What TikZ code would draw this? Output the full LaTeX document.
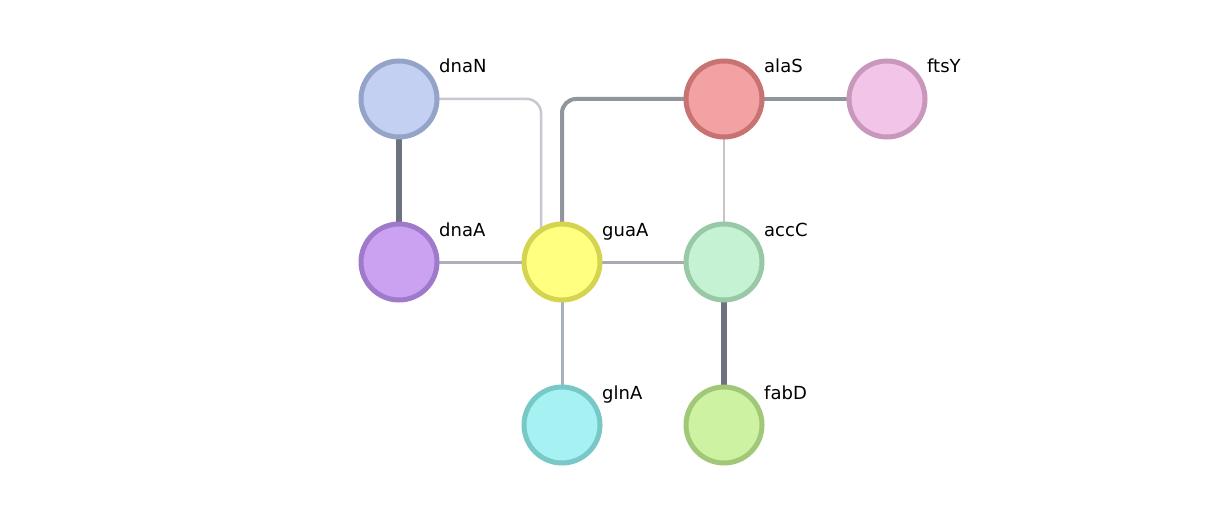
\documentclass[tikz,border=0pt]{standalone}
\usepackage{fontspec}
\setmainfont{DejaVu Sans}
\begin{document}
\begin{tikzpicture}[x=1pt,y=-1pt,
  gnode/.style={circle,minimum size=76pt,inner sep=0pt,line width=5pt},
  glabel/.style={anchor=base west,font=\fontsize{18}{21}\selectfont,inner sep=0pt},
]
\definecolor{eDark}{RGB}{108,114,128}
\definecolor{eMid}{RGB}{145,150,158}
\definecolor{eLight}{RGB}{200,200,208}
\definecolor{eLight2}{RGB}{198,198,202}
\definecolor{eGray}{RGB}{168,170,178}
\definecolor{eGray2}{RGB}{168,176,188}
\definecolor{eGray3}{RGB}{176,176,184}
\useasboundingbox (0,0) rectangle (1222,513);
\fill[white] (0,0) rectangle (1222,513);
% coordinates
\coordinate (pN) at (399,99);
\coordinate (pA) at (399,262);
\coordinate (pG) at (562,262);
\coordinate (pC) at (724,262);
\coordinate (pS) at (724,99);
\coordinate (pY) at (887,99);
\coordinate (pL) at (562,425);
\coordinate (pF) at (724,425);
\coordinate (kN) at (541,99);
\coordinate (kS) at (562,99);
% edges
\draw[eLight,line width=2.5pt,rounded corners=14pt] (pN) -- (kN) -- (541,262);
\draw[eMid,line width=4pt,rounded corners=14pt] (pS) -- (kS) -- (pG);
\draw[eMid,line width=4pt] (pS) -- (pY);
\draw[eLight2,line width=2pt] (pS) -- (pC);
\draw[eDark,line width=6.5pt] (pN) -- (pA);
\draw[eGray3,line width=3pt] (pA) -- (pG);
\draw[eGray,line width=3pt] (pG) -- (pC);
\draw[eGray2,line width=3pt] (pG) -- (pL);
\draw[eDark,line width=6.5pt] (pC) -- (pF);
% nodes
\node[gnode,draw={rgb,255:red,148;green,163;blue,200},fill={rgb,255:red,195;green,208;blue,242}] (dnaN) at (pN) {};
\node[gnode,draw={rgb,255:red,159;green,122;blue,203},fill={rgb,255:red,203;green,162;blue,242}] (dnaA) at (pA) {};
\node[gnode,draw={rgb,255:red,212;green,212;blue,80},fill={rgb,255:red,255;green,255;blue,128}] (guaA) at (pG) {};
\node[gnode,draw={rgb,255:red,152;green,200;blue,166},fill={rgb,255:red,197;green,242;blue,210}] (accC) at (pC) {};
\node[gnode,draw={rgb,255:red,200;green,114;blue,114},fill={rgb,255:red,242;green,162;blue,162}] (alaS) at (pS) {};
\node[gnode,draw={rgb,255:red,200;green,152;blue,188},fill={rgb,255:red,242;green,197;blue,232}] (ftsY) at (pY) {};
\node[gnode,draw={rgb,255:red,120;green,200;blue,200},fill={rgb,255:red,166;green,242;blue,242}] (glnA) at (pL) {};
\node[gnode,draw={rgb,255:red,160;green,200;blue,120},fill={rgb,255:red,204;green,242;blue,162}] (fabD) at (pF) {};
% labels
\node[glabel] (lN) at (439,73) {dnaN};
\node[glabel] (lA) at (439,236) {dnaA};
\node[glabel] (lG) at (602,236) {guaA};
\node[glabel] (lC) at (764,236) {accC};
\node[glabel] (lS) at (764,73) {alaS};
\node[glabel] (lY) at (927,73) {ftsY};
\node[glabel] (lL) at (602,399) {glnA};
\node[glabel] (lF) at (764,399) {fabD};
\end{tikzpicture}
\end{document}
